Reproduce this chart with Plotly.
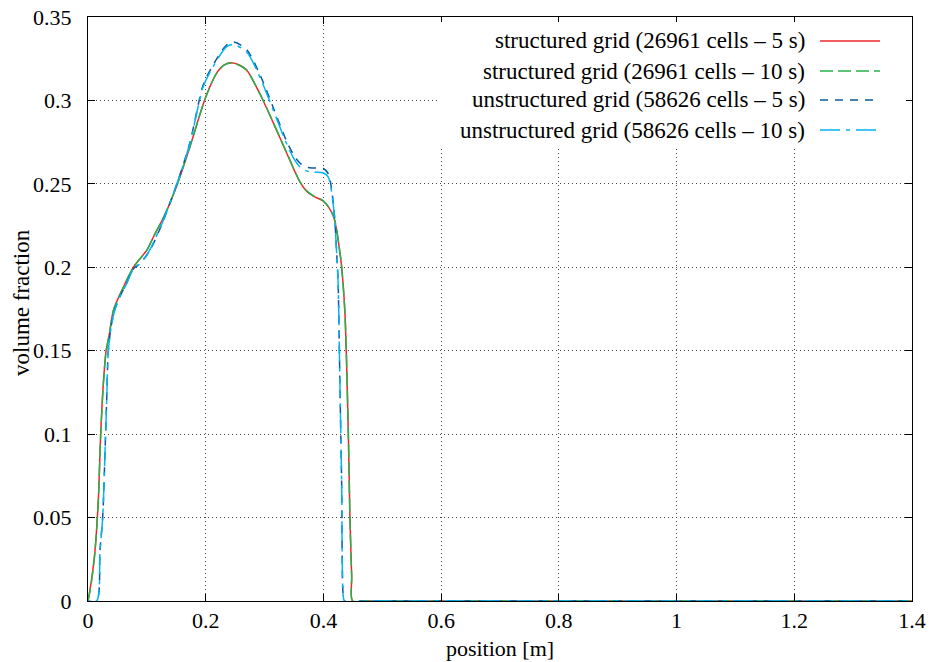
import plotly.graph_objects as go

# ---- data ----
x_struct = [0.0, 0.004, 0.008, 0.012, 0.0175, 0.0215, 0.026, 0.0306, 0.0362, 0.043, 0.052, 0.060,
            0.068, 0.077, 0.088, 0.100, 0.111, 0.130, 0.151, 0.173, 0.200, 0.2185, 0.232, 0.244,
            0.257, 0.2695, 0.292, 0.315, 0.3375, 0.350, 0.360, 0.371, 0.383, 0.400, 0.417, 0.428, 0.431,
            0.4366, 0.4423, 0.445, 0.448, 0.4496, 0.47, 0.6, 0.8, 1.0, 1.2, 1.4]
y_struct_5 = [0.0, 0.008, 0.018, 0.0306, 0.0605, 0.0995, 0.130, 0.1494, 0.160, 0.174, 0.182, 0.188,
              0.194, 0.200, 0.2050, 0.2103, 0.2180, 0.2310, 0.249, 0.272, 0.302, 0.3164, 0.3215, 0.3226,
              0.3212, 0.3182, 0.304, 0.2864, 0.2685, 0.2585, 0.2512, 0.2458, 0.2426, 0.2396, 0.2306, 0.2087, 0.200,
              0.172, 0.1003, 0.0505, 0.015, 0.0, 0.0, 0.0, 0.0, 0.0, 0.0, 0.0]
y_struct_10 = [0.0, 0.007, 0.017, 0.0300, 0.0598, 0.0990, 0.1295, 0.1490, 0.1598, 0.1738, 0.1818, 0.1878,
               0.1938, 0.1998, 0.2050, 0.2103, 0.2182, 0.2312, 0.2492, 0.2722, 0.3018, 0.3162, 0.3213, 0.3224,
               0.3211, 0.3181, 0.3041, 0.2866, 0.2687, 0.2587, 0.2514, 0.2460, 0.2428, 0.2398, 0.2308, 0.2090, 0.2002,
               0.1723, 0.1006, 0.0508, 0.0152, 0.0, 0.0, 0.0, 0.0, 0.0, 0.0, 0.0]

x_unstr = [0.0, 0.0147, 0.0204, 0.025, 0.029, 0.0317, 0.0345, 0.040, 0.0459, 0.055, 0.065, 0.077,
           0.0855, 0.098, 0.108, 0.128, 0.151, 0.173, 0.196, 0.213, 0.2355, 0.247, 0.2695, 0.292,
           0.315, 0.3375, 0.350, 0.360, 0.371, 0.383, 0.400, 0.4083, 0.417, 0.4225, 0.425, 0.428, 0.431, 0.4338,
           0.436, 0.47, 0.6, 0.8, 1.0, 1.2, 1.4]
y_unstr_5 = [0.0, 0.0, 0.0306, 0.0505, 0.0905, 0.120, 0.150, 0.166, 0.175, 0.183, 0.190, 0.199,
             0.2015, 0.2065, 0.2120, 0.2280, 0.2500, 0.2745, 0.3095, 0.3215, 0.3332, 0.3350, 0.3305, 0.3155,
             0.2955, 0.2755, 0.2670, 0.2625, 0.2600, 0.2595, 0.2592, 0.2560, 0.2380, 0.2090, 0.190, 0.130, 0.070, 0.0026,
             0.0, 0.0, 0.0, 0.0, 0.0, 0.0, 0.0]
y_unstr_10 = [0.0, 0.0, 0.0300, 0.0500, 0.0900, 0.1195, 0.1495, 0.1655, 0.1748, 0.1828, 0.1898, 0.1988,
              0.2012, 0.2062, 0.2125, 0.2282, 0.2500, 0.2740, 0.3085, 0.3205, 0.3322, 0.3335, 0.3290, 0.3140,
              0.2940, 0.2740, 0.2650, 0.2602, 0.2578, 0.2570, 0.2565, 0.2540, 0.2366, 0.2087, 0.190, 0.130, 0.070, 0.0026,
              0.0, 0.0, 0.0, 0.0, 0.0, 0.0, 0.0]

series_names = ["structured grid (26961 cells \u2013 5 s)",
                "structured grid (26961 cells \u2013 10 s)",
                "unstructured grid (58626 cells \u2013 5 s)",
                "unstructured grid (58626 cells \u2013 10 s)"]
x_ticks = [0, 0.2, 0.4, 0.6, 0.8, 1.0, 1.2, 1.4]
x_tick_text = ["0", "0.2", "0.4", "0.6", "0.8", "1", "1.2", "1.4"]
y_ticks = [0, 0.05, 0.1, 0.15, 0.2, 0.25, 0.3, 0.35]
y_tick_text = ["0", "0.05", "0.1", "0.15", "0.2", "0.25", "0.3", "0.35"]
x_title = "position [m]"
y_title = "volume fraction"

colors = ["#ee2828", "#25b24a", "#0a5aa0", "#00b4f0"]
dashes = ["solid", "13px,5px", "8px,7px", "20px,6px,4px,6px"]

FONT = "Liberation Serif"

fig = go.Figure()
data = [(x_struct, y_struct_5), (x_struct, y_struct_10), (x_unstr, y_unstr_5), (x_unstr, y_unstr_10)]
for (xs, ys), name, c, d in zip(data, series_names, colors, dashes):
    fig.add_trace(go.Scatter(x=xs, y=ys, mode="lines", name=name, showlegend=False,
                             line=dict(color=c, width=1.5, dash=d, shape="spline", smoothing=0.8)))

# gnuplot-style legend: opaque box, right-aligned text with sample line to the right
legend_rows_px = [41, 71, 100, 130]
W, H = 930, 662
ml, mr, mt, mb = 88, 18, 17, 61
pw, ph = W - ml - mr, H - mt - mb
def px_to_paper(xp, yp):
    return (xp - ml) / pw, 1 - (yp - mt) / ph

bx0, by0 = px_to_paper(440, 22)
bx1, by1 = px_to_paper(906, 147)
fig.add_shape(type="rect", xref="paper", yref="paper", x0=bx0, x1=bx1, y0=by1, y1=by0,
              fillcolor="white", line=dict(width=0), layer="above")

for name, c, d, yp in zip(series_names, colors, dashes, legend_rows_px):
    tx, ty = px_to_paper(807, yp)
    fig.add_annotation(x=tx, y=ty, xref="paper", yref="paper", text=name, showarrow=False,
                       xanchor="right", yanchor="middle", font=dict(family=FONT, size=23, color="black"))
    x0, yy = px_to_paper(820, yp)
    x1, _ = px_to_paper(880, yp)
    fig.add_shape(type="line", xref="paper", yref="paper", x0=x0, x1=x1, y0=yy, y1=yy,
                  line=dict(color=c, width=1.5, dash=d), layer="above")

# y-axis title placed like gnuplot
yx, yy = px_to_paper(21, 303)
fig.add_annotation(x=yx, y=yy, xref="paper", yref="paper", text=y_title, showarrow=False,
                   textangle=-90, xanchor="center", yanchor="middle",
                   font=dict(family=FONT, size=23, color="black"))

axis_common = dict(showline=True, linecolor="black", linewidth=1, mirror="ticks",
                   ticks="inside", ticklen=7, tickcolor="black", automargin=False,
                   showgrid=True, gridcolor="#444444", griddash="1px,3px", gridwidth=1,
                   zeroline=False, tickfont=dict(family=FONT, size=22, color="black"))

fig.update_layout(
    width=W, height=H, margin=dict(l=ml, r=mr, t=mt, b=mb),
    paper_bgcolor="white", plot_bgcolor="white",
    font=dict(family=FONT, size=22, color="black"),
    xaxis=dict(range=[0, 1.4], tickvals=x_ticks, ticktext=x_tick_text,
               title=dict(text=x_title, font=dict(family=FONT, size=22), standoff=8),
               **axis_common),
    yaxis=dict(range=[0, 0.35], tickvals=y_ticks,
               ticktext=[t + "\u2002" for t in y_tick_text],
               **axis_common),
)

fig.write_html("out.html")
